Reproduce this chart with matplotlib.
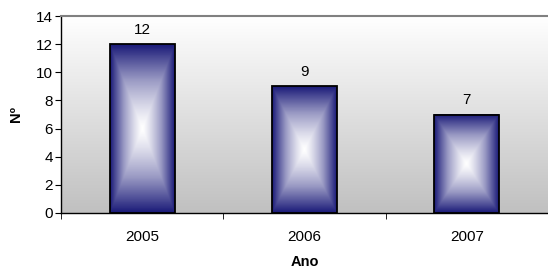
import matplotlib
matplotlib.use("Agg")
import matplotlib.pyplot as plt
import numpy as np
from matplotlib.colors import LinearSegmentedColormap

years = ["2005", "2006", "2007"]
values = [12, 9, 7]
yticks = [0, 2, 4, 6, 8, 10, 12, 14]

plt.rcParams['font.family'] = ['Liberation Sans', 'DejaVu Sans']

fig = plt.figure(figsize=(5.48, 2.69), dpi=100)
ax = fig.add_axes([61/548, 1-213/269, 1-61/548, (213-16)/269])

x = np.arange(len(years))
ax.set_xlim(-0.5, len(years) - 0.5)
ax.set_ylim(0, 14)

# background gradient
bg = np.linspace(0, 1, 256).reshape(-1, 1)
bgcmap = LinearSegmentedColormap.from_list("bg", ["#c0c0c0", "#ffffff"])
ax.imshow(bg, cmap=bgcmap, extent=[0, 1, 0, 1], transform=ax.transAxes,
          aspect="auto", origin="lower", zorder=0)

# bars with box gradient
barcmap = LinearSegmentedColormap.from_list("bar", ["#ffffff", "#9a9ac4", "#1a1a78"])
w = 0.4
bars = ax.bar(x, values, width=w, facecolor="none", edgecolor="black", linewidth=1.3, zorder=3)
n = 200
u = np.linspace(-1, 1, n)
U, V = np.meshgrid(u, u)
G = np.maximum(np.abs(U), np.abs(V)) ** 1.25
for xi, v in zip(x, values):
    ax.imshow(G, cmap=barcmap, extent=[xi - w/2, xi + w/2, 0, v], aspect="auto",
              origin="lower", zorder=2, vmin=0, vmax=1)
    ax.text(xi, v + 0.5, str(v), ha="center", va="bottom", fontsize=11)

ax.set_xlim(-0.5, len(years) - 0.5)
ax.set_ylim(0, 14)
ax.set_yticks(yticks)
ax.set_xticks(x)
ax.set_xticklabels(years)
ax.set_xticks(np.arange(len(years) + 1) - 0.5, minor=True)
ax.tick_params(axis="x", which="major", length=0, pad=12, labelsize=11)
ax.tick_params(axis="x", which="minor", length=4, direction="out")
ax.tick_params(axis="y", length=4, direction="out", labelsize=11, pad=2)

for s in ["left", "bottom"]:
    ax.spines[s].set_color("black")
    ax.spines[s].set_linewidth(1.0)
ax.spines["top"].set_color("#808080")
ax.spines["top"].set_linewidth(1.5)
ax.spines["right"].set_visible(False)

ax.set_ylabel("Nº", fontsize=10.5, fontweight="bold", labelpad=9)
ax.set_xlabel("Ano", fontsize=10.5, fontweight="bold", labelpad=8)

fig.savefig("out.png", dpi=100)
